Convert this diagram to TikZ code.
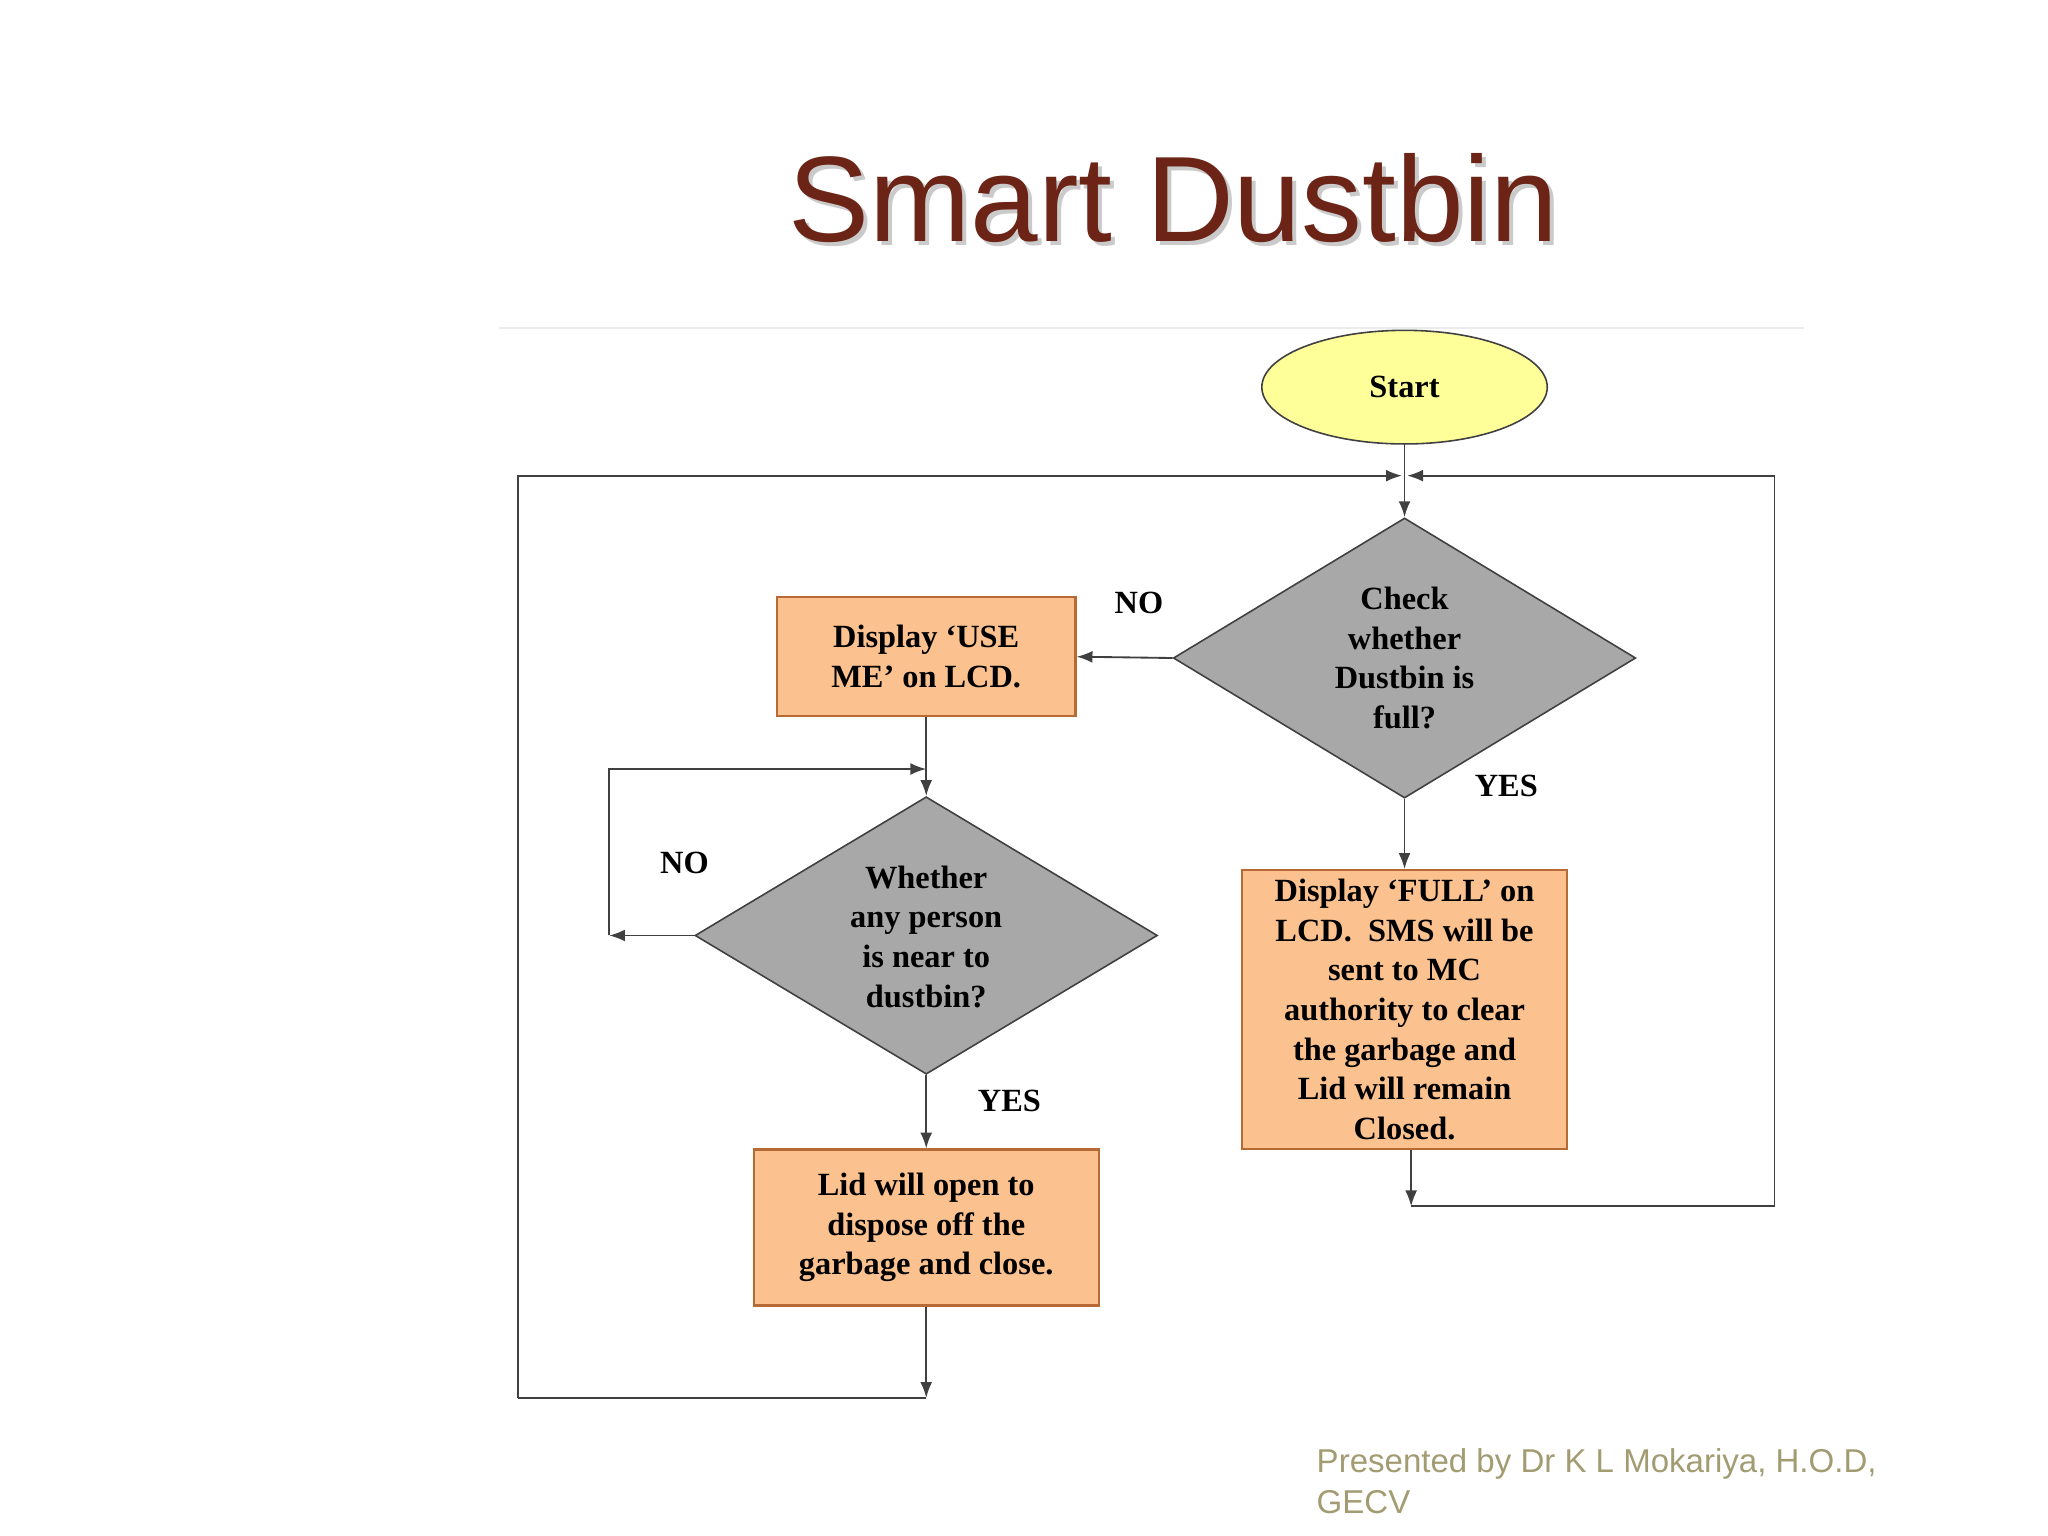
\documentclass[tikz,border=0pt]{standalone}
\usepackage{fontspec}
\setmainfont{Liberation Serif}
\newfontfamily\titlefont{Liberation Sans}
\usetikzlibrary{shapes.geometric,arrows.meta}
\definecolor{titlec}{HTML}{6B2416}
\definecolor{boxfill}{HTML}{FBC18E}
\definecolor{boxline}{HTML}{B86A35}
\definecolor{dfill}{HTML}{A8A8A8}
\definecolor{startfill}{HTML}{FFFF99}
\definecolor{footc}{HTML}{A39C72}
\definecolor{linec}{HTML}{404040}
\tikzset{
 txt/.style={font=\fontsize{24.5}{30}\selectfont\bfseries, align=center, text=black},
 boxn/.style={txt, draw=boxline, line width=1.6pt, fill=boxfill, inner sep=0pt},
 dia/.style={txt, diamond, draw=linec, line width=1.2pt, fill=dfill, inner sep=0pt},
 conn/.style={draw=linec, line width=1.4pt},
 arr/.style={conn, -{Latex[length=12pt,width=9pt]}},
 lbl/.style={font=\fontsize{24.5}{30}\selectfont\bfseries}
}
\begin{document}
\begin{tikzpicture}[x=1pt,y=-1pt]
\useasboundingbox (0,0) rectangle (1550,1162);
\node[font=\titlefont\fontsize{92}{104}\selectfont, text=black!35, opacity=0.6] at (891,153) {Smart Dustbin};
\node (title) [font=\titlefont\fontsize{92}{104}\selectfont, text=titlec] at (888,150) {Smart Dustbin};
\draw[black!8, line width=1.5pt] (378,248) -- (1365,248);
\node (start) [txt, ellipse, draw=linec, line width=1.2pt, fill=startfill, minimum width=216pt, minimum height=86pt] at (1063,293) {Start};
\node (d1) [dia, minimum width=350pt, minimum height=212pt] at (1063,498) {};
\node[txt] at (1063,498) {Check\\whether\\Dustbin is\\full?};
\node (b1) [boxn, minimum width=226pt, minimum height=90pt] at (701,497) {Display ‘USE\\ME’ on LCD.};
\node (d2) [dia, minimum width=350pt, minimum height=210pt] at (701,708) {};
\node[txt] at (701,709) {Whether\\any person\\is near to\\dustbin?};
\node (b3) [boxn, minimum width=261pt, minimum height=118pt] at (701,929) {Lid will open to\\dispose off the\\garbage and close.};
\node (b2) [boxn, minimum width=246pt, minimum height=211pt] at (1063,764) {Display ‘FULL’ on\\LCD.\ \ SMS will be\\sent to MC\\authority to clear\\the garbage and\\Lid will remain\\Closed.};
\coordinate (j1) at (1063,360);
\coordinate (tl) at (392,360);
\coordinate (bl) at (392,1058);
\coordinate (e1) at (701,1058);
\coordinate (lp1) at (461,708);
\coordinate (lp2) at (461,582);
\coordinate (lp3) at (701,582);
\coordinate (r0) at (1068,870);
\coordinate (r1) at (1068,913);
\coordinate (r2) at (1343,913);
\coordinate (r3) at (1343,360);
\draw[conn] (start.south) -- (j1);
\draw[arr] (j1) -- (d1.north);
\draw[arr] (bl) -- (tl) -- (1061,360);
\draw[arr] (d1.west) -- (b1.east);
\draw[arr] (b1.south) -- (d2.north);
\draw[arr] (d2.west) -- (lp1);
\draw[arr] (lp1) -- (lp2) -- (lp3);
\draw[arr] (d2.south) -- (b3.north);
\draw[arr] (b3.south) -- (e1);
\draw[conn] (e1) -- (bl);
\draw[arr] (d1.south) -- (b2.north);
\draw[arr] (r0) -- (r1);
\draw[arr] (r1) -- (r2) -- (r3) -- (1065,360);
\node (no1) [lbl] at (862,456) {NO};
\node (no2) [lbl] at (518,653) {NO};
\node (yes1) [lbl] at (1140,595) {YES};
\node (yes2) [lbl] at (764,833) {YES};
\node (foot) [font=\titlefont\fontsize{25}{31}\selectfont, text=footc, align=left, anchor=north west] at (993,1093) {Presented by Dr K L Mokariya, H.O.D,\\GECV};
\end{tikzpicture}
\end{document}
